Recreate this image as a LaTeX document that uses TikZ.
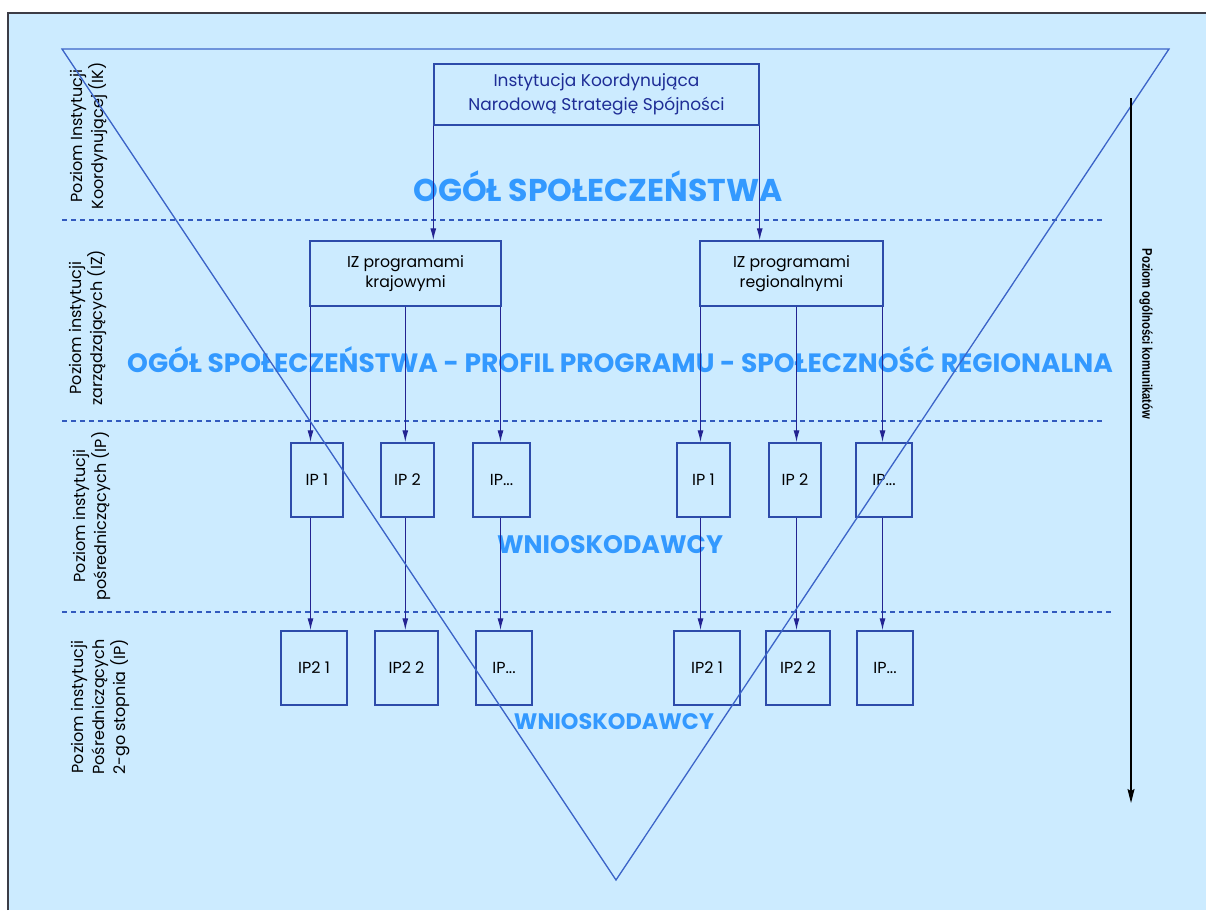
\documentclass[tikz,border=0pt]{standalone}
\usepackage{fontspec}
\setmainfont{Poppins}
\newfontfamily\arrowfont{Liberation Sans}
\usetikzlibrary{arrows.meta}
\definecolor{bgc}{RGB}{204,235,255}
\definecolor{bordc}{RGB}{60,60,70}
\definecolor{boxc}{RGB}{45,75,170}
\definecolor{arrc}{RGB}{35,35,145}
\definecolor{tric}{RGB}{60,100,200}
\definecolor{dashc}{RGB}{50,90,190}
\definecolor{bigc}{RGB}{51,153,255}
\definecolor{toptxt}{RGB}{30,45,150}
\tikzset{
  box/.style={draw=boxc, line width=1.4pt, inner sep=0pt, align=center, font=\fontsize{16pt}{20pt}\selectfont},
  arr/.style={draw=arrc, line width=1.2pt, -{Latex[length=12pt,width=6pt]}},
  sep/.style={draw=dashc, line width=1.2pt, dash pattern=on 5pt off 4pt},
  lvl/.style={rotate=90, align=center, font=\fontsize{16pt}{21pt}\selectfont},
  big/.style={text=bigc, font=\bfseries}
}
\begin{document}
\begin{tikzpicture}[x=1pt,y=-1pt]
\useasboundingbox (0,0) rectangle (1206,910);
\fill[bgc] (8,13) rectangle (1206,910);
\draw[bordc, line width=2pt] (8,910) -- (8,13) -- (1206,13);

% separators
\coordinate (s1a) at (62,220); \coordinate (s1b) at (1102,220);
\coordinate (s2a) at (62,421); \coordinate (s2b) at (1102,421);
\coordinate (s3a) at (62,612); \coordinate (s3b) at (1111,612);
\draw[sep] (s1a) -- (s1b);
\draw[sep] (s2a) -- (s2b);
\draw[sep] (s3a) -- (s3b);

% level labels
\node[lvl] (l1) at (89,136) {Poziom Instytucji\\Koordynującej (IK)};
\node[lvl] (l2) at (88,328) {Poziom instytucji\\zarządzających (IZ)};
\node[lvl] (l3) at (92,516) {Poziom instytucji\\pośredniczących (IP)};
\node[lvl] (l4) at (101,707) {Poziom instytucji\\Pośredniczących\\2-go stopnia (IP)};

% big texts
\node[big, font=\bfseries\fontsize{31.5pt}{34pt}\selectfont] (t1) at (598,186) {OGÓŁ SPOŁECZEŃSTWA};
\node[big, font=\bfseries\fontsize{26.5pt}{30pt}\selectfont] (t2) at (620,360) {OGÓŁ SPOŁECZEŃSTWA - PROFIL PROGRAMU - SPOŁECZNOŚĆ REGIONALNA};
\node[big, font=\bfseries\fontsize{25.3pt}{28pt}\selectfont] (t3) at (610,545) {WNIOSKODAWCY};
\node[big, font=\bfseries\fontsize{22.4pt}{26pt}\selectfont] (t4) at (614,722) {WNIOSKODAWCY};

% boxes
\node[box, text=toptxt, minimum width=325pt, minimum height=61pt, font=\fontsize{17pt}{24pt}\selectfont] (ik) at (596.5,94.5) {Instytucja Koordynująca\\Narodową Strategię Spójności};
\node[box, minimum width=191pt, minimum height=65pt, font=\fontsize{15.7pt}{20pt}\selectfont] (iz1) at (405.5,273.5) {IZ programami\\krajowymi};
\node[box, minimum width=183pt, minimum height=65pt, font=\fontsize{15.7pt}{20pt}\selectfont] (iz2) at (791.5,273.5) {IZ programami\\regionalnymi};

\node[box, minimum width=52pt, minimum height=74pt] (p11) at (317,480) {IP 1};
\node[box, minimum width=53pt, minimum height=74pt] (p12) at (407.5,480) {IP 2};
\node[box, minimum width=57pt, minimum height=74pt] (p13) at (501.5,480) {IP...};
\node[box, minimum width=53pt, minimum height=74pt] (p14) at (703.5,480) {IP 1};
\node[box, minimum width=52pt, minimum height=74pt] (p15) at (795,480) {IP 2};
\node[box, minimum width=56pt, minimum height=74pt] (p16) at (884,480) {IP...};

\node[box, minimum width=66pt, minimum height=74pt] (p21) at (314,668) {IP2 1};
\node[box, minimum width=63pt, minimum height=74pt] (p22) at (406.5,668) {IP2 2};
\node[box, minimum width=56pt, minimum height=74pt] (p23) at (504,668) {IP...};
\node[box, minimum width=66pt, minimum height=74pt] (p24) at (707,668) {IP2 1};
\node[box, minimum width=64pt, minimum height=74pt] (p25) at (798,668) {IP2 2};
\node[box, minimum width=56pt, minimum height=74pt] (p26) at (885,668) {IP...};

% column x positions
\coordinate (c1) at (310.5,0);
\coordinate (c2) at (405.3,0);
\coordinate (c3) at (500.5,0);
\coordinate (c4) at (700.5,0);
\coordinate (c5) at (796.5,0);
\coordinate (c6) at (882.5,0);

% arrows top -> IZ
\draw[arr] (ik.south west) -- (ik.south west |- iz1.north);
\draw[arr] (ik.south east) -- (ik.south east |- iz2.north);
% IZ -> IP
\draw[arr] (c1 |- iz1.south) -- (c1 |- p11.north);
\draw[arr] (c2 |- iz1.south) -- (c2 |- p12.north);
\draw[arr] (c3 |- iz1.south) -- (c3 |- p13.north);
\draw[arr] (c4 |- iz2.south) -- (c4 |- p14.north);
\draw[arr] (c5 |- iz2.south) -- (c5 |- p15.north);
\draw[arr] (c6 |- iz2.south) -- (c6 |- p16.north);
% IP -> IP2
\draw[arr] (c1 |- p11.south) -- (c1 |- p21.north);
\draw[arr] (c2 |- p12.south) -- (c2 |- p22.north);
\draw[arr] (c3 |- p13.south) -- (c3 |- p23.north);
\draw[arr] (c4 |- p14.south) -- (c4 |- p24.north);
\draw[arr] (c5 |- p15.south) -- (c5 |- p25.north);
\draw[arr] (c6 |- p16.south) -- (c6 |- p26.north);

% triangle
\coordinate (ta) at (62,49);
\coordinate (tb) at (1169,49);
\coordinate (tc) at (616,880);
\draw[tric, line width=1.3pt, line join=miter] (ta) -- (tb) -- (tc) -- cycle;

% generality arrow
\coordinate (ra) at (1131,98);
\coordinate (rb) at (1131,803);
\draw[black, line width=1.1pt, -{Stealth[length=14pt,width=7pt,inset=2pt]}] (ra) -- (rb);
\node[rotate=-90, font=\arrowfont\bfseries\fontsize{14pt}{16pt}\selectfont] (rl) at (1146,334) {\scalebox{0.8}[1]{Poziom ogólności komunikatów}};
\end{tikzpicture}
\end{document}
